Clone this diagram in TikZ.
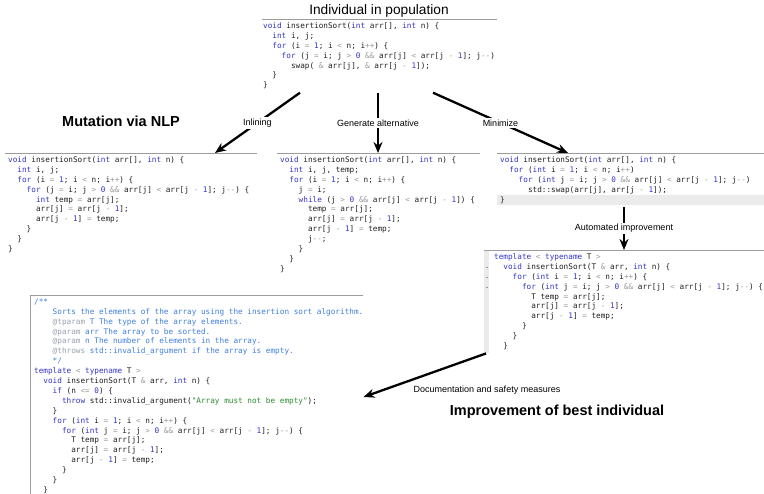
\documentclass[tikz,border=0pt]{standalone}
\usepackage{fontspec}
\setmainfont{Liberation Sans}
\setmonofont{DejaVu Sans Mono}
\usetikzlibrary{arrows.meta}

\definecolor{kwblue}{HTML}{3434C8}
\definecolor{opgray}{HTML}{9A9A9A}
\definecolor{cmtblue}{HTML}{3F7FDF}
\definecolor{taggray}{HTML}{9AA0B0}
\definecolor{strgreen}{HTML}{2E8B2E}
\definecolor{rulegray}{HTML}{9C9C9C}
\definecolor{hlgray}{HTML}{EBEBEB}
\definecolor{idblack}{HTML}{202020}

\newlength\cw
\setlength\cw{4.635pt}
\newcommand\codett{\ttfamily\fontsize{7.7}{9.9}\selectfont}
\newcommand\ind[1]{\hspace*{#1\cw}}
\newcommand\kw[1]{\textcolor{kwblue}{#1}}
\newcommand\nmb[1]{\textcolor{kwblue}{#1}}
\newcommand\opr[1]{\textcolor{opgray}{#1}}
\newcommand\cmt[1]{\textcolor{cmtblue}{#1}}
\newcommand\tagc[1]{\textcolor{taggray}{#1}}
\newcommand\lit[1]{\textcolor{strgreen}{#1}}

\begin{document}
\begin{tikzpicture}[x=1pt, y=-1pt, >={Stealth[length=11pt, width=9pt]},
  codeblk/.style={anchor=north west, align=left, inner xsep=0pt, inner ysep=3.4pt, font=\codett, text=idblack},
  border/.style={draw=rulegray, line width=0.8pt},
  flow/.style={->, line width=2.3pt},
  lbl/.style={fill=white, font=\fontsize{9}{10}\selectfont, inner sep=1.5pt},
  heading/.style={font=\bfseries\fontsize{14.5}{17}\selectfont}]

  \fill[white] (0,0) rectangle (764,494);
  \useasboundingbox (0,0) rectangle (764,494);

  % headings
  \node[font=\fontsize{13.7}{16}\selectfont] (title) at (379,11) {Individual in population};
  \node[heading] (mutlabel) at (121,121) {Mutation via NLP};
  \node[heading] (bestlabel) at (557,412) {Improvement of best individual};

  % individual
  \node[codeblk] (top) at (263,19) {%
\kw{void} insertionSort(\kw{int} arr[], \kw{int} n) \{\\
\ind{2}\kw{int} i, j;\\
\ind{2}\kw{for} (i \opr{=} \nmb{1}; i \opr{<} n; i\opr{++}) \{\\
\ind{4}\kw{for} (j \opr{=} i; j \opr{>} \nmb{0} \opr{\&\&} arr[j] \opr{<} arr[j \opr{-} \nmb{1}]; j\opr{--})\\
\ind{6}swap( \opr{\&} arr[j], \opr{\&} arr[j \opr{-} \nmb{1}]);\\
\ind{2}\}\\
\}};
  \draw[border] (262,19) -- (497,19);

  % mutations
  \node[codeblk] (mutA) at (8,153) {%
\kw{void} insertionSort(\kw{int} arr[], \kw{int} n) \{\\
\ind{2}\kw{int} i, j;\\
\ind{2}\kw{for} (i \opr{=} \nmb{1}; i \opr{<} n; i\opr{++}) \{\\
\ind{4}\kw{for} (j \opr{=} i; j \opr{>} \nmb{0} \opr{\&\&} arr[j] \opr{<} arr[j \opr{-} \nmb{1}]; j\opr{--}) \{\\
\ind{6}\kw{int} temp \opr{=} arr[j];\\
\ind{6}arr[j] \opr{=} arr[j \opr{-} \nmb{1}];\\
\ind{6}arr[j \opr{-} \nmb{1}] \opr{=} temp;\\
\ind{4}\}\\
\ind{2}\}\\
\}};
  \draw[border] (5,153) -- (257,153);

  \node[codeblk] (mutB) at (280,153) {%
\kw{void} insertionSort(\kw{int} arr[], \kw{int} n) \{\\
\ind{2}\kw{int} i, j, temp;\\
\ind{2}\kw{for} (i \opr{=} \nmb{1}; i \opr{<} n; i\opr{++}) \{\\
\ind{4}j \opr{=} i;\\
\ind{4}\kw{while} (j \opr{>} \nmb{0} \opr{\&\&} arr[j] \opr{<} arr[j \opr{-} \nmb{1}]) \{\\
\ind{6}temp \opr{=} arr[j];\\
\ind{6}arr[j] \opr{=} arr[j \opr{-} \nmb{1}];\\
\ind{6}arr[j \opr{-} \nmb{1}] \opr{=} temp;\\
\ind{6}j\opr{--};\\
\ind{4}\}\\
\ind{2}\}\\
\}};
  \draw[border] (277,153) -- (480,153);

  \fill[hlgray] (497,195.5) rectangle (764,205.5);
  \node[codeblk] (mutC) at (500,153) {%
\kw{void} insertionSort(\kw{int} arr[], \kw{int} n) \{\\
\ind{2}\kw{for} (\kw{int} i \opr{=} \nmb{1}; i \opr{<} n; i\opr{++})\\
\ind{4}\kw{for} (\kw{int} j \opr{=} i; j \opr{>} \nmb{0} \opr{\&\&} arr[j] \opr{<} arr[j \opr{-} \nmb{1}]; j\opr{--})\\
\ind{6}std::swap(arr[j], arr[j \opr{-} \nmb{1}]);\\
\}};
  \draw[border] (497,153) -- (764,153);

  % best individual
  \fill[hlgray] (484,250) rectangle (489,353);
  \foreach \yy in {267,277,287}
    \draw[rulegray, line width=0.7pt] (485.5,\yy) -- (487.5,\yy);
  \node[codeblk] (best) at (494,250) {%
\kw{template} \opr{<} \kw{typename} T \opr{>}\\
\ind{2}\kw{void} insertionSort(T \opr{\&} arr, \kw{int} n) \{\\
\ind{4}\kw{for} (\kw{int} i \opr{=} \nmb{1}; i \opr{<} n; i\opr{++}) \{\\
\ind{6}\kw{for} (\kw{int} j \opr{=} i; j \opr{>} \nmb{0} \opr{\&\&} arr[j] \opr{<} arr[j \opr{-} \nmb{1}]; j\opr{--}) \{\\
\ind{8}T temp \opr{=} arr[j];\\
\ind{8}arr[j] \opr{=} arr[j \opr{-} \nmb{1}];\\
\ind{8}arr[j \opr{-} \nmb{1}] \opr{=} temp;\\
\ind{6}\}\\
\ind{4}\}\\
\ind{2}\}};
  \draw[border] (484,250) -- (764,250);

  % documented version
  \node[codeblk] (doc) at (34,295) {%
\cmt{/**}\\
\ind{4}\cmt{Sorts the elements of the array using the insertion sort algorithm.}\\
\ind{4}\tagc{@tparam} \cmt{T The type of the array elements.}\\
\ind{4}\tagc{@param} \cmt{arr The array to be sorted.}\\
\ind{4}\tagc{@param} \cmt{n The number of elements in the array.}\\
\ind{4}\tagc{@throws} \cmt{std::invalid\_argument if the array is empty.}\\
\ind{4}\cmt{*/}\\
\kw{template} \opr{<} \kw{typename} T \opr{>}\\
\ind{2}\kw{void} insertionSort(T \opr{\&} arr, \kw{int} n) \{\\
\ind{4}\kw{if} (n \opr{<=} \nmb{0}) \{\\
\ind{6}\kw{throw} std::invalid\_argument(\lit{"Array must not be empty"});\\
\ind{4}\}\\
\ind{4}\kw{for} (\kw{int} i \opr{=} \nmb{1}; i \opr{<} n; i\opr{++}) \{\\
\ind{6}\kw{for} (\kw{int} j \opr{=} i; j \opr{>} \nmb{0} \opr{\&\&} arr[j] \opr{<} arr[j \opr{-} \nmb{1}]; j\opr{--}) \{\\
\ind{8}T temp \opr{=} arr[j];\\
\ind{8}arr[j] \opr{=} arr[j \opr{-} \nmb{1}];\\
\ind{8}arr[j \opr{-} \nmb{1}] \opr{=} temp;\\
\ind{6}\}\\
\ind{4}\}\\
\ind{2}\}};
  \draw[border] (30,295) -- (363,295);
  \draw[border] (30,295) -- (30,494);

  % arrows
  \path ([xshift=37pt]top.south west)  edge[flow] node[lbl] {Inlining} ([xshift=207pt]mutA.north west)
        ([xshift=115pt]top.south west) edge[flow] node[lbl] {Generate alternative} ([xshift=98pt]mutB.north west)
        ([xshift=170pt]top.south west) edge[flow] node[lbl] {Minimize} ([xshift=68pt]mutC.north west)
        ([xshift=124pt]mutC.south west) edge[flow] node[lbl] {Automated improvement} ([xshift=130pt]best.north west)
        ([xshift=-8pt]best.south west) edge[flow] ([yshift=-102pt]doc.north east);
  \node[lbl, fill=none] (doclabel) at (487,390) {Documentation and safety measures};

\end{tikzpicture}
\end{document}
